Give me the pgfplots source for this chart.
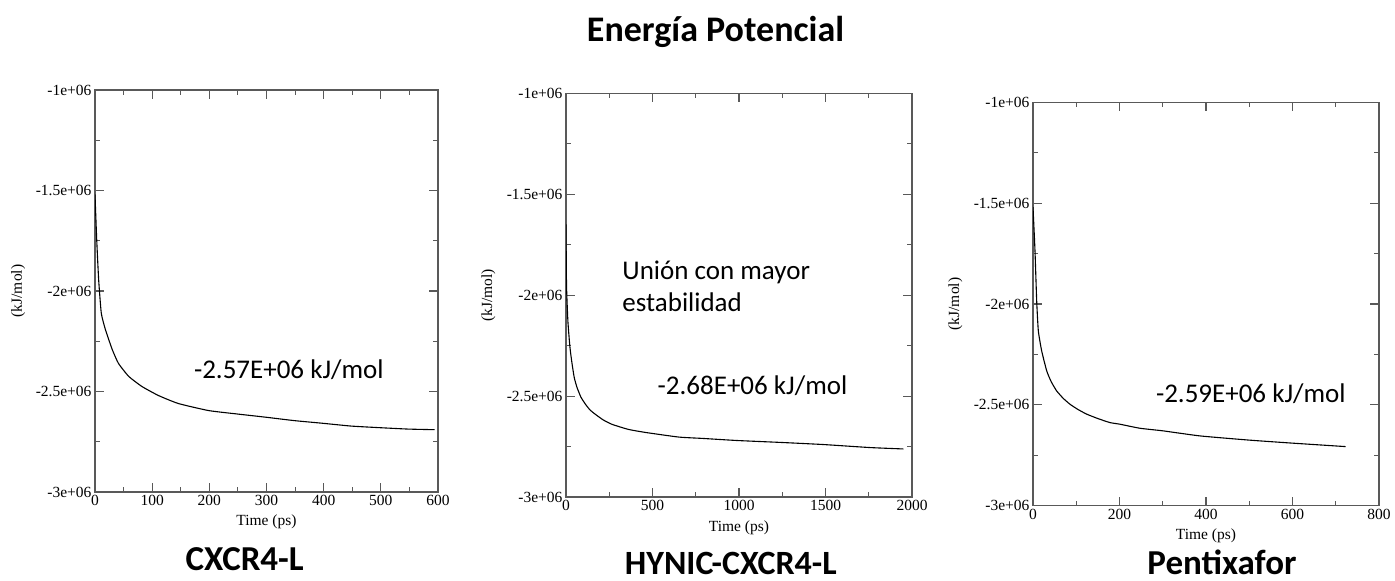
\documentclass[border=0pt]{standalone}
\usepackage{fontspec}
\setmainfont{Liberation Serif}
\newfontfamily\calib{Carlito}
\usepackage{pgfplots}
\pgfplotsset{compat=1.18}
\pgfplotsset{grace/.style={
  scale only axis,
  anchor=south west,
  axis line style={black!65, line width=1.1pt},
  every tick/.style={black!65, line width=1.1pt},
  tick align=inside,
  major tick length=9pt,
  minor tick length=5pt,
  minor x tick num=1,
  minor y tick num=1,
  ymin=-3e6, ymax=-1e6,
  ytick={-3e6,-2.5e6,-2e6,-1.5e6,-1e6},
  yticklabels={{-3e+06},{-2.5e+06},{-2e+06},{-1.5e+06},{-1e+06}},
  scaled y ticks=false, scaled x ticks=false,
  tick label style={font=\fontsize{15.5}{18}\selectfont},
  label style={font=\fontsize{15.5}{18}\selectfont},
  xlabel={Time (ps)},
  ylabel={(kJ/mol)},
  xlabel style={at={(axis description cs:0.5,-0.075)},anchor=center},
  ylabel style={at={(axis description cs:-0.224,0.5)},anchor=center},
}}
\begin{document}
\begin{tikzpicture}
\useasboundingbox (0,0) rectangle (1395pt,581pt);

\begin{axis}[grace, at={(95pt,89pt)}, width=343pt, height=402pt,
  xmin=0, xmax=600, xtick={0,100,200,300,400,500,600},
  xticklabels={0,100,200,300,400,500,600}]
\addplot[black, line width=1.1pt, smooth, tension=0.3] coordinates {
(0,-1.52e6) (3,-1.745e6) (6.4,-1.944e6) (11,-2.11e6) (18,-2.19e6)
(30,-2.29e6) (41,-2.36e6) (59,-2.425e6) (82,-2.475e6) (111,-2.52e6)
(146,-2.56e6) (199,-2.595e6) (249,-2.612e6) (299,-2.628e6) (349,-2.645e6)
(398,-2.658e6) (448,-2.672e6) (498,-2.680e6) (548,-2.687e6) (594,-2.69e6)};
\node[font=\calib\fontsize{27}{32}\selectfont] at (axis cs:339,-2.393e6) {-2.57E+06 kJ/mol};
\end{axis}

\begin{axis}[grace, at={(566pt,84pt)}, width=346pt, height=403.7pt,
  xmin=0, xmax=2000, xtick={0,500,1000,1500,2000},
  xticklabels={0,500,1000,1500,2000}]
\addplot[black, line width=1.1pt, smooth, tension=0.3] coordinates {
(0,-1.65e6) (3,-1.95e6) (11,-2.13e6) (23,-2.26e6) (35,-2.34e6)
(48,-2.41e6) (64,-2.458e6) (86,-2.505e6) (112,-2.54e6) (138,-2.568e6) (169,-2.59e6)
(215,-2.618e6) (266,-2.64e6) (360,-2.665e6) (458,-2.68e6)
(651,-2.703e6) (794,-2.71e6) (986,-2.72e6) (1250,-2.73e6) (1486,-2.74e6)
(1756,-2.755e6) (1950,-2.762e6)};
\node[anchor=west, align=left, font=\calib\fontsize{27}{31.7}\selectfont] at (axis cs:306,-1.955e6) {Unión con mayor\\estabilidad};
\node[font=\calib\fontsize{27}{32}\selectfont] at (axis cs:1078,-2.45e6) {-2.68E+06 kJ/mol};
\end{axis}

\begin{axis}[grace, at={(1033pt,75.3pt)}, width=346pt, height=403.4pt,
  xmin=0, xmax=800, xtick={0,200,400,600,800},
  xticklabels={0,200,400,600,800}]
\addplot[black, line width=1.1pt, smooth, tension=0.3] coordinates {
(0,-1.52e6) (4.6,-1.736e6) (8.5,-1.984e6) (12.3,-2.133e6) (20,-2.232e6)
(31.6,-2.331e6) (42,-2.385e6) (54.7,-2.431e6) (70,-2.468e6) (85.5,-2.497e6) (104,-2.523e6) (124,-2.546e6) (150,-2.568e6) (178,-2.588e6)
(201,-2.596e6) (247,-2.616e6) (301,-2.629e6) (386,-2.654e6) (501,-2.675e6)
(601,-2.69e6) (723,-2.707e6)};
\node[font=\calib\fontsize{27}{32}\selectfont] at (axis cs:503.6,-2.447e6) {-2.59E+06 kJ/mol};
\end{axis}

\node[anchor=base, font=\calib\bfseries\fontsize{36}{40}\selectfont] at (715.5pt,539.3pt) {Energía Potencial};
\node[anchor=base, font=\calib\bfseries\fontsize{35}{40}\selectfont] at (244.7pt,10pt) {CXCR4-L};
\node[anchor=base, inner sep=0pt, font=\calib\bfseries\fontsize{34}{40}\selectfont] at (730.8pt,6pt) {HYNIC-CXCR4-L};
\node[anchor=base, font=\calib\bfseries\fontsize{35}{40}\selectfont] at (1222pt,6pt) {Pentixafor};
\end{tikzpicture}
\end{document}
